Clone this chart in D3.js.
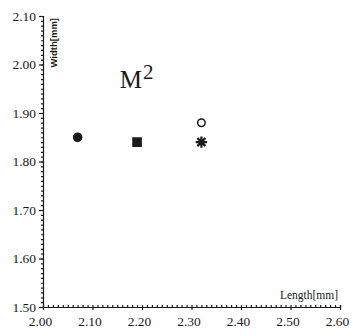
<!DOCTYPE html>
<html lang="en">

<head>
    <meta charset="UTF-8">
    <title>M2 width vs length</title>
    <script src="https://d3js.org/d3.v7.min.js"></script>
    <style>
        body { margin: 0; background: #fff; }
        svg text { fill: #1a1a1a; }
    </style>
</head>

<body>
    <svg id="chart" width="353" height="336"></svg>

    <script>
        // data
        const lengths = [2.07, 2.19, 2.32, 2.32];
        const widths = [1.85, 1.84, 1.88, 1.84];
        const symbols = ["dot", "square", "ring", "star"];
        const xTicks = [2.00, 2.10, 2.20, 2.30, 2.40, 2.50, 2.60];
        const yTicks = [1.50, 1.60, 1.70, 1.80, 1.90, 2.00, 2.10];

        const svg = d3.select("#chart");
        const margin = { top: 16, right: 13, bottom: 29, left: 43 };
        const width = +svg.attr("width") - margin.left - margin.right;
        const height = +svg.attr("height") - margin.top - margin.bottom;
        const g = svg.append("g").attr("transform", `translate(${margin.left},${margin.top})`);

        const x = d3.scaleLinear().domain([2.00, 2.60]).range([0, width]);
        const y = d3.scaleLinear().domain([1.50, 2.10]).range([height, 0]);

        const ink = "#1a1a1a";
        const serif = "'Times New Roman', 'Liberation Serif', 'DejaVu Serif', serif";

        // minor ticks every 0.01
        const xMinor = d3.range(0, 61).map(i => 2.00 + i * 0.01);
        const yMinor = d3.range(0, 61).map(i => 1.50 + i * 0.01);

        const xAxis = g.append("g").attr("transform", `translate(0,${height})`);
        xAxis.call(d3.axisBottom(x).tickValues(xMinor).tickSize(-2).tickFormat(""));
        const xMajor = xAxis.append("g")
            .call(d3.axisBottom(x).tickValues(xTicks).tickSize(3).tickFormat(d3.format(".2f")))
            .call(a => a.select(".domain").remove())
            .attr("font-family", serif)
            .attr("font-size", 13.5);
        xMajor.selectAll("text")
            .attr("dx", -3)
            .attr("dy", "0.95em");

        const yAxis = g.append("g");
        yAxis.call(d3.axisLeft(y).tickValues(yMinor).tickSize(2).tickFormat(""));
        yAxis.append("g")
            .call(d3.axisLeft(y).tickValues(yTicks).tickSize(4).tickFormat(d3.format(".2f")))
            .call(a => a.select(".domain").remove())
            .attr("font-family", serif)
            .attr("font-size", 13.5);

        svg.selectAll(".domain, .tick line").attr("stroke", ink).attr("stroke-width", 1.2);

        // axis titles
        g.append("text")
            .attr("transform", "rotate(-90)")
            .attr("x", -2)
            .attr("y", 14)
            .attr("text-anchor", "end")
            .attr("font-family", "'Liberation Sans', Arial, sans-serif")
            .attr("font-weight", "bold")
            .attr("font-size", 9.5)
            .text("Width[mm]");

        g.append("text")
            .attr("x", width - 2)
            .attr("y", height - 8)
            .attr("text-anchor", "end")
            .attr("font-family", serif)
            .attr("font-size", 11.5)
            .text("Length[mm]");

        // M² label
        const lab = g.append("text")
            .attr("x", x(2.155))
            .attr("y", y(1.952))
            .attr("font-family", serif)
            .attr("font-size", 25);
        lab.append("tspan").text("M");
        lab.append("tspan").attr("dy", -9).attr("dx", 1).attr("font-size", 21).text("2");

        // points
        const pts = lengths.map((l, i) => ({ l, w: widths[i], s: symbols[i] }));

        // eight-armed asterisk like the scan
        const star8 = {
            draw(ctx, size) {
                const r = Math.sqrt(size) / 2;
                for (let k = 0; k < 4; k++) {
                    const a = k * Math.PI / 4;
                    ctx.moveTo(-r * Math.cos(a), -r * Math.sin(a));
                    ctx.lineTo(r * Math.cos(a), r * Math.sin(a));
                }
            }
        };
        const symType = { dot: d3.symbolCircle, square: d3.symbolSquare, ring: d3.symbolCircle, star: star8 };
        const symSize = { dot: 52, square: 66, ring: 44, star: 130 };

        g.selectAll(".pt")
            .data(pts)
            .enter().append("path")
            .attr("class", "pt")
            .attr("transform", d => `translate(${x(d.l)},${y(d.w)})`)
            .attr("d", d => d3.symbol().type(symType[d.s]).size(symSize[d.s])())
            .attr("fill", d => (d.s === "ring" || d.s === "star" ? "none" : ink))
            .attr("stroke", ink)
            .attr("stroke-width", d => (d.s === "star" ? 2.2 : 1.5));

        // dense centre of the asterisk
        g.selectAll(".core")
            .data(pts.filter(d => d.s === "star"))
            .enter().append("circle")
            .attr("cx", d => x(d.l))
            .attr("cy", d => y(d.w))
            .attr("r", 2.5)
            .attr("fill", ink);
    </script>

</body>

</html>
